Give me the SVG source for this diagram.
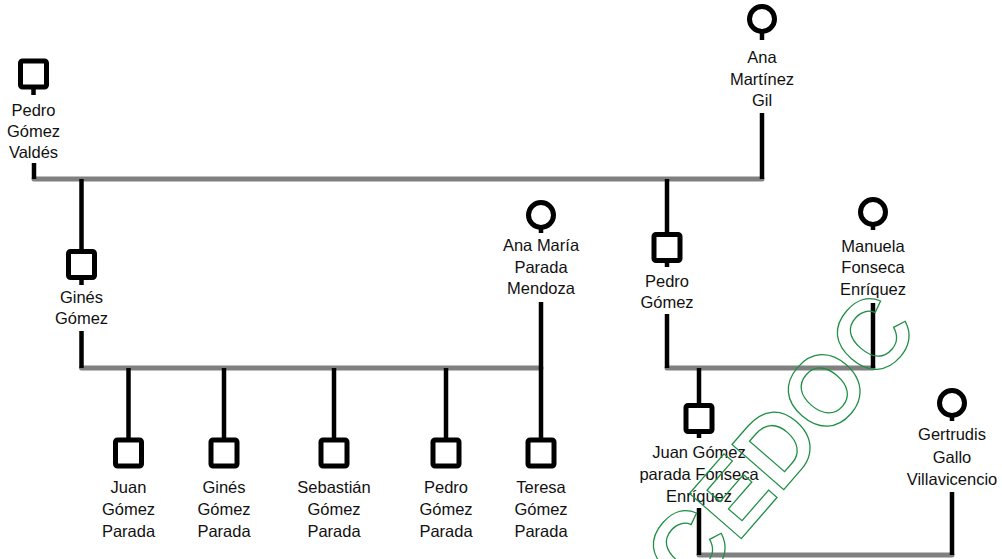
<svg xmlns="http://www.w3.org/2000/svg" width="1002" height="559" viewBox="0 0 1002 559">
  <style>
    .gen { stroke: #808080; stroke-width: 5; stroke-linecap: round; fill: none; }
    .ln { stroke: #000; stroke-width: 4.5; fill: none; }
    .male { fill: #fff; stroke: #000; stroke-width: 5; }
    .female { fill: #fff; stroke: #000; stroke-width: 5; }
    .lbl { font-family: "Liberation Sans", Arial, sans-serif; font-size: 16.5px; fill: #111; text-anchor: middle; }
    .stamp { font-family: "Liberation Sans", Arial, sans-serif; font-size: 86px; font-weight: bold; fill: none; stroke: #1f8f45; stroke-width: 1.1; text-anchor: middle; }
  </style>

  <rect width="1002" height="559" fill="#fff"/>

  <!-- family lines: grey sibship bars, black descent/marriage lines -->
  <g id="connectors">
    <line class="gen" x1="34" y1="179" x2="762" y2="179"/>
    <line class="gen" x1="81.5" y1="368" x2="541" y2="368"/>
    <line class="gen" x1="667" y1="368" x2="873" y2="368"/>
    <line class="gen" x1="699" y1="555" x2="952" y2="555"/>

    <line class="ln" x1="34" y1="163" x2="34" y2="179"/>
    <line class="ln" x1="762" y1="113" x2="762" y2="179"/>
    <line class="ln" x1="81.5" y1="179" x2="81.5" y2="251.5"/>
    <line class="ln" x1="667" y1="179" x2="667" y2="234.5"/>

    <line class="ln" x1="81.5" y1="331" x2="81.5" y2="368"/>
    <line class="ln" x1="541" y1="302" x2="541" y2="440"/>
    <line class="ln" x1="128.5" y1="368" x2="128.5" y2="440"/>
    <line class="ln" x1="224" y1="368" x2="224" y2="440"/>
    <line class="ln" x1="334" y1="368" x2="334" y2="440"/>
    <line class="ln" x1="446" y1="368" x2="446" y2="440"/>

    <line class="ln" x1="667" y1="314" x2="667" y2="368"/>
    <line class="ln" x1="873" y1="303" x2="873" y2="368"/>
    <line class="ln" x1="699" y1="368" x2="699" y2="405.5"/>

    <line class="ln" x1="699" y1="508" x2="699" y2="555"/>
    <line class="ln" x1="952" y1="492" x2="952" y2="555"/>
  </g>

  <g id="pedro-gomez-valdes">
    <rect class="male" x="20.5" y="61" width="26" height="26" rx="2"/>
    <line class="ln" x1="33.5" y1="87" x2="33.5" y2="95"/>
    <text class="lbl" x="33.5" y="116">Pedro</text>
    <text class="lbl" x="33.5" y="137">Gómez</text>
    <text class="lbl" x="33.5" y="158">Valdés</text>
  </g>

  <g id="ana-martinez-gil">
    <circle class="female" cx="762" cy="19" r="12.5"/>
    <line class="ln" x1="762" y1="31.5" x2="762" y2="40"/>
    <text class="lbl" x="762" y="63">Ana</text>
    <text class="lbl" x="762" y="85">Martínez</text>
    <text class="lbl" x="762" y="106">Gil</text>
  </g>

  <g id="gines-gomez">
    <rect class="male" x="68.5" y="251.5" width="26" height="26" rx="2"/>
    <line class="ln" x1="81.5" y1="277.5" x2="81.5" y2="285"/>
    <text class="lbl" x="81.5" y="303">Ginés</text>
    <text class="lbl" x="81.5" y="324">Gómez</text>
  </g>

  <g id="ana-maria-parada-mendoza">
    <circle class="female" cx="541" cy="215" r="12.5"/>
    <line class="ln" x1="541" y1="227.5" x2="541" y2="233"/>
    <text class="lbl" x="541" y="251">Ana María</text>
    <text class="lbl" x="541" y="273">Parada</text>
    <text class="lbl" x="541" y="294">Mendoza</text>
  </g>

  <g id="pedro-gomez">
    <rect class="male" x="654" y="234.5" width="26" height="26" rx="2"/>
    <line class="ln" x1="667" y1="260.5" x2="667" y2="267"/>
    <text class="lbl" x="667" y="287">Pedro</text>
    <text class="lbl" x="667" y="308">Gómez</text>
  </g>

  <g id="manuela-fonseca-enriquez">
    <circle class="female" cx="873" cy="212" r="12.5"/>
    <line class="ln" x1="873" y1="224.5" x2="873" y2="230"/>
    <text class="lbl" x="873" y="252">Manuela</text>
    <text class="lbl" x="873" y="273">Fonseca</text>
    <text class="lbl" x="873" y="295">Enríquez</text>
  </g>

  <g id="juan-gomez-parada">
    <rect class="male" x="115.5" y="440" width="26" height="26" rx="2"/>
    <text class="lbl" x="128.5" y="493">Juan</text>
    <text class="lbl" x="128.5" y="515">Gómez</text>
    <text class="lbl" x="128.5" y="537">Parada</text>
  </g>

  <g id="gines-gomez-parada">
    <rect class="male" x="211" y="440" width="26" height="26" rx="2"/>
    <text class="lbl" x="224" y="493">Ginés</text>
    <text class="lbl" x="224" y="515">Gómez</text>
    <text class="lbl" x="224" y="537">Parada</text>
  </g>

  <g id="sebastian-gomez-parada">
    <rect class="male" x="321" y="440" width="26" height="26" rx="2"/>
    <text class="lbl" x="334" y="493">Sebastián</text>
    <text class="lbl" x="334" y="515">Gómez</text>
    <text class="lbl" x="334" y="537">Parada</text>
  </g>

  <g id="pedro-gomez-parada">
    <rect class="male" x="433" y="440" width="26" height="26" rx="2"/>
    <text class="lbl" x="446" y="493">Pedro</text>
    <text class="lbl" x="446" y="515">Gómez</text>
    <text class="lbl" x="446" y="537">Parada</text>
  </g>

  <g id="teresa-gomez-parada">
    <rect class="male" x="528" y="440" width="26" height="26" rx="2"/>
    <text class="lbl" x="541" y="493">Teresa</text>
    <text class="lbl" x="541" y="515">Gómez</text>
    <text class="lbl" x="541" y="537">Parada</text>
  </g>

  <g id="juan-gomez-parada-fonseca-enriquez">
    <rect class="male" x="686" y="405.5" width="26" height="26" rx="2"/>
    <line class="ln" x1="699" y1="431.5" x2="699" y2="438"/>
    <text class="lbl" x="699" y="458">Juan Gómez</text>
    <text class="lbl" x="699" y="480">parada Fonseca</text>
    <text class="lbl" x="699" y="502">Enríquez</text>
  </g>

  <g id="gertrudis-gallo-villavicencio">
    <circle class="female" cx="952" cy="403" r="12.5"/>
    <line class="ln" x1="952" y1="415.5" x2="952" y2="421"/>
    <text class="lbl" x="952" y="440">Gertrudis</text>
    <text class="lbl" x="952" y="463">Gallo</text>
    <text class="lbl" x="952" y="485">Villavicencio</text>
  </g>

  <!-- archive stamp, outlined letters running diagonally -->
  <g id="stamp">
    <text class="stamp" transform="translate(806,464) rotate(-49) scale(1.13,1.16)" x="0" y="0">CEDOC</text>
  </g>
</svg>
